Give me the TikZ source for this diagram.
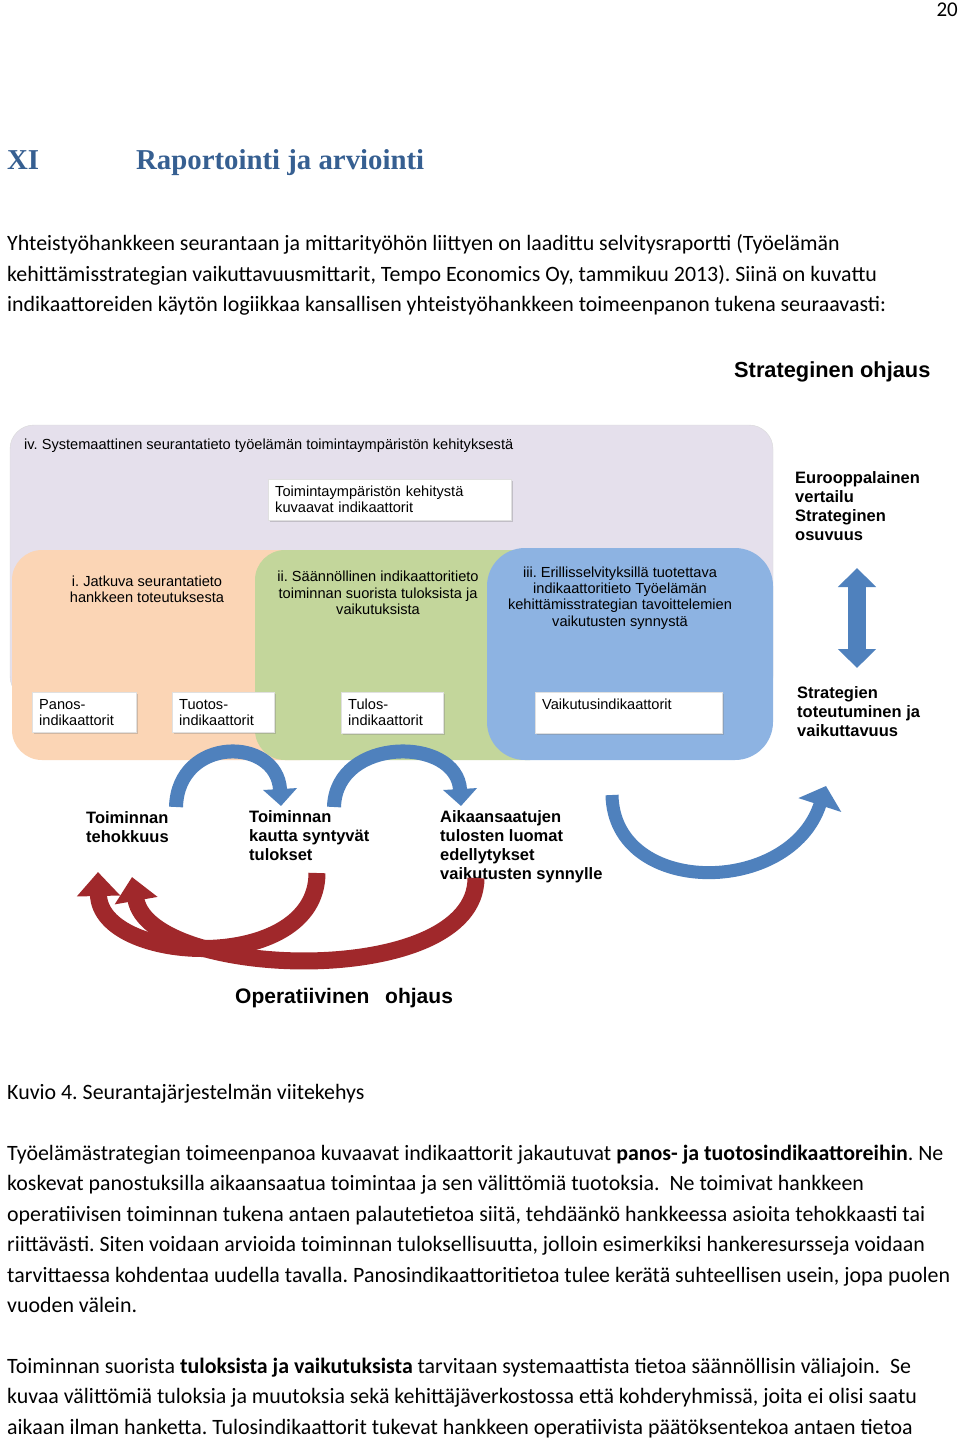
\documentclass[tikz,border=0pt]{standalone}
\usepackage{fontspec}
\setmainfont{Carlito}
\newfontfamily\headfont{Liberation Serif}
\newfontfamily\diafont{Liberation Sans}
\usetikzlibrary{arrows.meta,shadows}
\frenchspacing
\definecolor{headblue}{HTML}{365F91}
\definecolor{lavender}{HTML}{E5E0EC}
\definecolor{peach}{HTML}{FBD5B5}
\definecolor{leafgreen}{HTML}{C3D69B}
\definecolor{skyblue}{HTML}{8DB3E2}
\definecolor{arrowblue}{HTML}{4F81BD}
\definecolor{arrowred}{HTML}{A0282B}
\tikzset{
  bodyline/.style={anchor=base west, inner sep=0pt, font=\fontsize{21.9}{30}\selectfont},
  indbox/.style={anchor=north west, fill=white, draw=black!12, inner sep=7pt, align=left,
    drop shadow={shadow xshift=2pt, shadow yshift=-2pt, opacity=0.35},
    font=\diafont\fontsize{14.6}{16}\selectfont},
  paneltext/.style={align=center, inner sep=0pt, font=\diafont\fontsize{14.6}{16.3}\selectfont},
  flowlabel/.style={anchor=north west, align=left, inner sep=0pt, font=\diafont\bfseries\fontsize{16.5}{19}\selectfont},
  bluearc/.style={draw=arrowblue, line width=14pt, -{Triangle[width=33pt,length=17pt]}},
  redarc/.style={draw=arrowred, line width=17pt, -{Triangle[width=42pt,length=24pt]}}
}
\begin{document}
\begin{tikzpicture}[x=1pt,y=-1pt]
\useasboundingbox (0,0) rectangle (960,1441);
\fill[white] (0,0) rectangle (960,1441);
% page head
\node[anchor=base east, inner sep=0pt, font=\fontsize{21}{24}\selectfont] (pageno) at (958,16) {20};
\node[anchor=base west, inner sep=0pt, text=headblue, font=\headfont\bfseries\fontsize{28.8}{30}\selectfont] (chapno) at (7,169) {XI};
\node[anchor=base west, inner sep=0pt, text=headblue, font=\headfont\bfseries\fontsize{28.8}{30}\selectfont] (chaptitle) at (136,169) {Raportointi ja arviointi};
\node[bodyline] (p1) at (7,250) {Yhteistyöhankkeen seurantaan ja mittarityöhön liittyen on laadittu selvitysraportti (Työelämän};
\node[bodyline] (p2) at (7,281) {kehittämisstrategian vaikuttavuusmittarit, Tempo Economics Oy, tammikuu 2013). Siinä on kuvattu};
\node[bodyline] (p3) at (7,311) {indikaattoreiden käytön logiikkaa kansallisen yhteistyöhankkeen toimeenpanon tukena seuraavasti:};

% panels
\filldraw[fill=lavender, draw=black!15, rounded corners=24pt] (10,425) rectangle (773,700);
\fill[peach, rounded corners=30pt] (12,550) rectangle (330,760);
\fill[leafgreen, rounded corners=30pt] (255,550) rectangle (560,760);
\fill[skyblue, rounded corners=38pt] (487,548) rectangle (773,760);

\node[anchor=west, inner sep=0pt, font=\diafont\fontsize{14.6}{16}\selectfont] (ivtext) at (24,446) {iv. Systemaattinen seurantatieto työelämän toimintaympäristön kehityksestä};
\node[paneltext] (itext) at (147,589) {i. Jatkuva seurantatieto\\hankkeen toteutuksesta};
\node[paneltext] (iitext) at (378,593) {ii. Säännöllinen indikaattoritieto\\toiminnan suorista tuloksista ja\\vaikutuksista};
\node[paneltext] (iiitext) at (620,598) {iii. Erillisselvityksillä tuotettava\\indikaattoritieto Työelämän\\kehittämisstrategian tavoittelemien\\vaikutusten synnystä};

% indicator boxes
\node[indbox, text width=229pt] (envbox) at (268,479) {Toimintaympäristön kehitystä\\kuvaavat indikaattorit};
\node[indbox, text width=90pt] (panosbox) at (32,692) {Panos-\\indikaattorit};
\node[indbox, text width=88pt] (tuotosbox) at (172,692) {Tuotos-\\indikaattorit};
\node[indbox, text width=88pt] (tulosbox) at (341,692) {Tulos-\\indikaattorit};
\node[indbox, text width=173pt] (vaikbox) at (535,692) {Vaikutusindikaattorit\\\phantom{x}};

% strategic side
\node[anchor=west, inner sep=0pt, font=\diafont\bfseries\fontsize{21.8}{24}\selectfont] (strat) at (734,372) {Strateginen ohjaus};
\node[flowlabel] (euro) at (795,471) {Eurooppalainen\\vertailu\\Strateginen\\osuvuus};
\node[flowlabel] (toteut) at (797,686) {Strategien\\toteutuminen ja\\vaikuttavuus};
\coordinate (dtop) at (857,568);
\coordinate (dbot) at (857,668);
\draw[arrowblue, line width=18pt, {Triangle[width=37pt,length=19pt]}-{Triangle[width=37pt,length=19pt]}] (dtop) -- (dbot);

% operative side
\node[flowlabel] (teho) at (86,811) {Toiminnan\\tehokkuus};
\node[flowlabel] (tulok) at (249,810) {Toiminnan\\kautta syntyvät\\tulokset};
\node[flowlabel] (aikaan) at (440,810) {Aikaansaatujen\\tulosten luomat\\edellytykset\\vaikutusten synnylle};
\coordinate (b1s) at (176,807);
\coordinate (b1e) at (281,806);
\coordinate (b2s) at (334,807);
\coordinate (b2e) at (461,806);
\coordinate (b3s) at (612,795);
\coordinate (b3e) at (826,786);
\draw[bluearc] (b1s) .. controls (178,736) and (277,736) .. (b1e);
\draw[bluearc] (b2s) .. controls (336,736) and (457,736) .. (b2e);
\draw[bluearc, line width=13pt, -{Triangle[width=44pt,length=20pt]}] (b3s) .. controls (614,897) and (790,897) .. (b3e);
\coordinate (r1s) at (317,873);
\coordinate (r1e) at (98,872);
\coordinate (r2s) at (476,878);
\coordinate (r2e) at (132,877);
\draw[redarc] (r1s) .. controls (317,975) and (100,965) .. (r1e);
\draw[redarc] (r2s) .. controls (476,990) and (150,980) .. (r2e);
\node[anchor=west, inner sep=0pt, font=\diafont\bfseries\fontsize{21}{24}\selectfont] (oper) at (235,998) {Operatiivinen\hspace{10pt} ohjaus};

% caption and text
\node[bodyline] (cap) at (7,1099) {Kuvio 4. Seurantajärjestelmän viitekehys};
\node[bodyline] (q1) at (7,1160) {Työelämästrategian toimeenpanoa kuvaavat indikaattorit jakautuvat \textbf{panos- ja tuotosindikaattoreihin}. Ne};
\node[bodyline] (q2) at (7,1190) {koskevat panostuksilla aikaansaatua toimintaa ja sen välittömiä tuotoksia.\ \ Ne toimivat hankkeen};
\node[bodyline] (q3) at (7,1221) {operatiivisen toiminnan tukena antaen palautetietoa siitä, tehdäänkö hankkeessa asioita tehokkaasti tai};
\node[bodyline] (q4) at (7,1251) {riittävästi. Siten voidaan arvioida toiminnan tuloksellisuutta, jolloin esimerkiksi hankeresursseja voidaan};
\node[bodyline] (q5) at (7,1282) {tarvittaessa kohdentaa uudella tavalla. Panosindikaattoritietoa tulee kerätä suhteellisen usein, jopa puolen};
\node[bodyline] (q6) at (7,1312) {vuoden välein.};
\node[bodyline] (s1) at (7,1373) {Toiminnan suorista \textbf{tuloksista ja vaikutuksista} tarvitaan systemaattista tietoa säännöllisin väliajoin.\ \ Se};
\node[bodyline] (s2) at (7,1403) {kuvaa välittömiä tuloksia ja muutoksia sekä kehittäjäverkostossa että kohderyhmissä, joita ei olisi saatu};
\node[bodyline] (s3) at (7,1434) {aikaan ilman hanketta. Tulosindikaattorit tukevat hankkeen operatiivista päätöksentekoa antaen tietoa};
\end{tikzpicture}
\end{document}
